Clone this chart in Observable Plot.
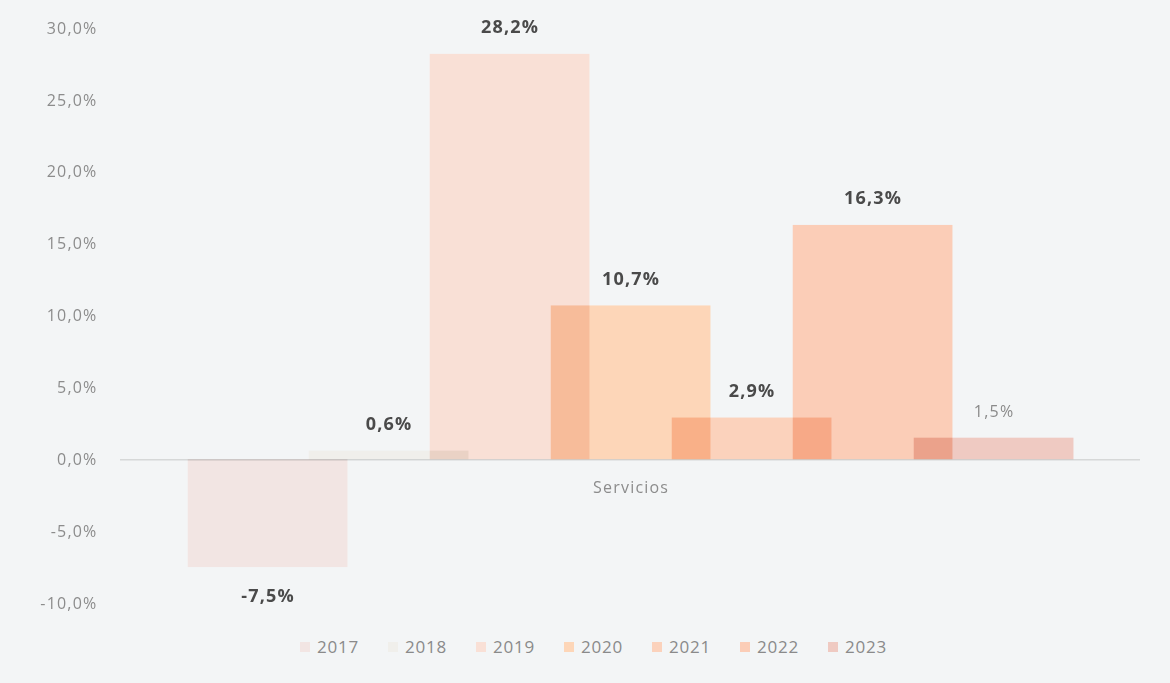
<!DOCTYPE html>
<html>
<head>
<meta charset="utf-8">
<script src="https://cdn.jsdelivr.net/npm/d3@7"></script>
<script src="https://cdn.jsdelivr.net/npm/@observablehq/plot@0.6"></script>
<style>
  html, body { margin: 0; padding: 0; background: #f3f5f6; }
  body { width: 1170px; height: 683px; overflow: hidden; font-family: "Open Sans", Lato, sans-serif; }
  #chart svg { isolation: isolate; }
  #legend { display: flex; justify-content: center; margin-left: 46px; margin-top: 10px; }
  .item { display: flex; align-items: center; width: 88px; color: #8a8a8a; font-size: 17px; letter-spacing: 0.8px; }
  .sw { width: 10px; height: 10px; margin-right: 7px; }
</style>
</head>
<body>
<div id="chart"></div>
<div id="legend"></div>
<script>
const categories = ["Servicios"];
const years = [2017, 2018, 2019, 2020, 2021, 2022, 2023];
const values = [-7.5, 0.6, 28.2, 10.7, 2.9, 16.3, 1.5];
const colors = ["#f2e5e3", "#f0efeb", "#f9e0d6", "#fdd6b8", "#fbd2bc", "#fbcdb7", "#efcac2"];
const yTicks = [-10, -5, 0, 5, 10, 15, 20, 25, 30];

const data = years.map((yr, i) => ({ year: yr, value: values[i], color: colors[i] }));
const fmt = v => v.toFixed(1).replace(".", ",") + "%";
const half = 0.66;
const boldLabels = data.filter(d => d.year !== 2023);

const chart = Plot.plot({
  width: 1170,
  height: 625,
  marginLeft: 120,
  marginRight: 30,
  marginTop: 28,
  marginBottom: 22,
  style: { background: "transparent", fontFamily: "'Open Sans', Lato, sans-serif", letterSpacing: "1.2px" },
  x: { domain: [2015.78, 2024.21], axis: null },
  y: { domain: [-10, 30], axis: null },
  marks: [
    Plot.ruleY([0], { stroke: "#d6d8d8", strokeWidth: 1.5 }),
    Plot.rectY(data, {
      x1: d => d.year - half,
      x2: d => d.year + half,
      y1: 0,
      y2: "value",
      fill: "color",
      mixBlendMode: "multiply"
    }),
    Plot.axisY({
      ticks: yTicks,
      tickFormat: fmt,
      tickSize: 0,
      tickPadding: 23,
      fontSize: 16,
      color: "#8c8c8c",
      label: null
    }),
    Plot.text(boldLabels.filter(d => d.value >= 0), {
      x: "year",
      y: "value",
      text: d => fmt(d.value),
      dy: -27,
      fontSize: 18,
      fontWeight: "bold",
      fill: "#4a4a4a"
    }),
    Plot.text(boldLabels.filter(d => d.value < 0), {
      x: "year",
      y: "value",
      text: d => fmt(d.value),
      dy: 29,
      fontSize: 18,
      fontWeight: "bold",
      fill: "#4a4a4a"
    }),
    Plot.text(data.filter(d => d.year === 2023), {
      x: "year",
      y: "value",
      text: d => fmt(d.value),
      dy: -26,
      fontSize: 16,
      fill: "#8a8a8a"
    }),
    Plot.text(categories, {
      x: () => 2020,
      y: () => 0,
      text: d => d,
      dy: 28,
      fontSize: 16,
      fill: "#8c8c8c"
    })
  ]
});
document.getElementById("chart").appendChild(chart);

const legend = d3.select("#legend");
years.forEach((yr, i) => {
  const it = legend.append("div").attr("class", "item");
  it.append("div").attr("class", "sw").style("background", colors[i]);
  it.append("span").text(yr);
});
</script>
</body>
</html>
